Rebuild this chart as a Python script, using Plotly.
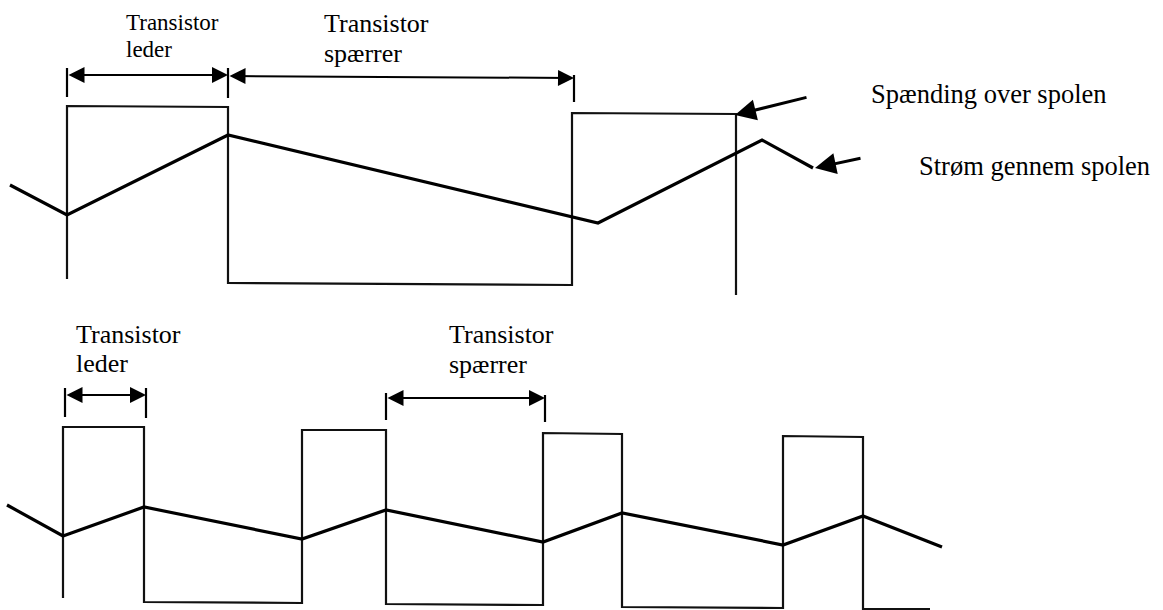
import plotly.graph_objects as go

# canvas coordinates: x to the right, y downwards (like the scanned sheet)
W, H = 1163, 610

# top diagram: slow switching
top_volt_x = [67, 67, 228, 228, 572, 572, 736, 736]
top_volt_y = [279, 106, 107, 283, 285, 113, 114, 295]
top_curr_x = [10, 67, 228, 598, 762, 813]
top_curr_y = [185, 215, 135, 223, 140, 168]

# bottom diagram: fast switching
bot_volt_x = [63, 63, 144, 144, 302, 302, 386, 386, 543, 543, 622, 622, 783, 783, 863, 863, 930]
bot_volt_y = [598, 427, 427, 602, 603, 430, 430, 604, 605, 433, 434, 607, 608, 436, 437, 609, 609]
bot_curr_x = [7, 63, 144, 302, 386, 543, 622, 783, 863, 942]
bot_curr_y = [505, 536, 507, 539, 510, 542, 513, 545, 516, 547]

# dimension arrows (start x, end x, start y, end y)
span_x0 = [67, 228, 65, 386]
span_x1 = [228, 574, 146, 545]
span_y0 = [75, 76, 395, 398]
span_y1 = [75, 78, 395, 398]

# short vertical end marks of the dimension arrows
mark_x = [67, 228, 574, 65, 146, 386, 545]
mark_top = [68, 68, 75, 388, 388, 393, 395]
mark_bot = [97, 98, 102, 417, 418, 420, 422]

# text labels (one line each)
label_text = ['Transistor', 'leder', 'Transistor', 'spærrer',
              'Transistor', 'leder', 'Transistor', 'spærrer',
              'Spænding over spolen', 'Strøm gennem spolen']
label_x = [124, 124, 322, 322, 74, 74, 447, 447, 869, 917]
label_y = [22, 49, 23, 53, 334, 363, 334, 364, 94, 166]
label_size = [23, 23, 26, 26, 26, 26, 26, 26, 26.5, 26.5]

# pointer arrows to the curves (tail -> tip)
ptr_x0 = [808, 862]
ptr_y0 = [97, 158]
ptr_x1 = [735, 815]
ptr_y1 = [115, 168]

fig = go.Figure()

for xs, ys in [(top_volt_x, top_volt_y), (bot_volt_x, bot_volt_y)]:
    fig.add_trace(go.Scatter(x=xs, y=ys, mode='lines',
                             line=dict(color='#111111', width=2.2),
                             hoverinfo='skip'))

for xs, ys in [(top_curr_x, top_curr_y), (bot_curr_x, bot_curr_y)]:
    fig.add_trace(go.Scatter(x=xs, y=ys, mode='lines',
                             line=dict(color='black', width=3.2),
                             hoverinfo='skip'))

mx, my = [], []
for x, t, b in zip(mark_x, mark_top, mark_bot):
    mx += [x, x, None]
    my += [t, b, None]
fig.add_trace(go.Scatter(x=mx, y=my, mode='lines',
                         line=dict(color='black', width=2.2),
                         hoverinfo='skip'))

for x0, x1, y0, y1 in zip(span_x0, span_x1, span_y0, span_y1):
    fig.add_annotation(x=x1, y=y1, ax=x0, ay=y0, xref='x', yref='y',
                       axref='x', ayref='y', text='', showarrow=True,
                       arrowhead=2, arrowside='end+start', arrowsize=1.6,
                       arrowwidth=2, arrowcolor='black', standoff=0, startstandoff=0)

for x0, y0, x1, y1 in zip(ptr_x0, ptr_y0, ptr_x1, ptr_y1):
    fig.add_annotation(x=x1, y=y1, ax=x0, ay=y0, xref='x', yref='y',
                       axref='x', ayref='y', text='', showarrow=True,
                       arrowhead=2, arrowsize=1.4, arrowwidth=3,
                       arrowcolor='black', standoff=0)

for t, x, y, s in zip(label_text, label_x, label_y, label_size):
    fig.add_annotation(x=x, y=y, xref='x', yref='y', text=t, showarrow=False,
                       xanchor='left', yanchor='middle',
                       font=dict(family='Liberation Serif, Times New Roman, serif',
                                 size=s, color='black'))

fig.update_xaxes(range=[0, W], visible=False, fixedrange=True)
fig.update_yaxes(range=[H, 0], visible=False, fixedrange=True)
fig.update_layout(width=W, height=H, margin=dict(l=0, r=0, t=0, b=0),
                  paper_bgcolor='white', plot_bgcolor='white',
                  showlegend=False)

# page body has a default 8px margin; drop it so the figure sits at the corner
fig.write_html("out.html", config={'displayModeBar': False},
               post_script="document.body.style.margin='0';")
